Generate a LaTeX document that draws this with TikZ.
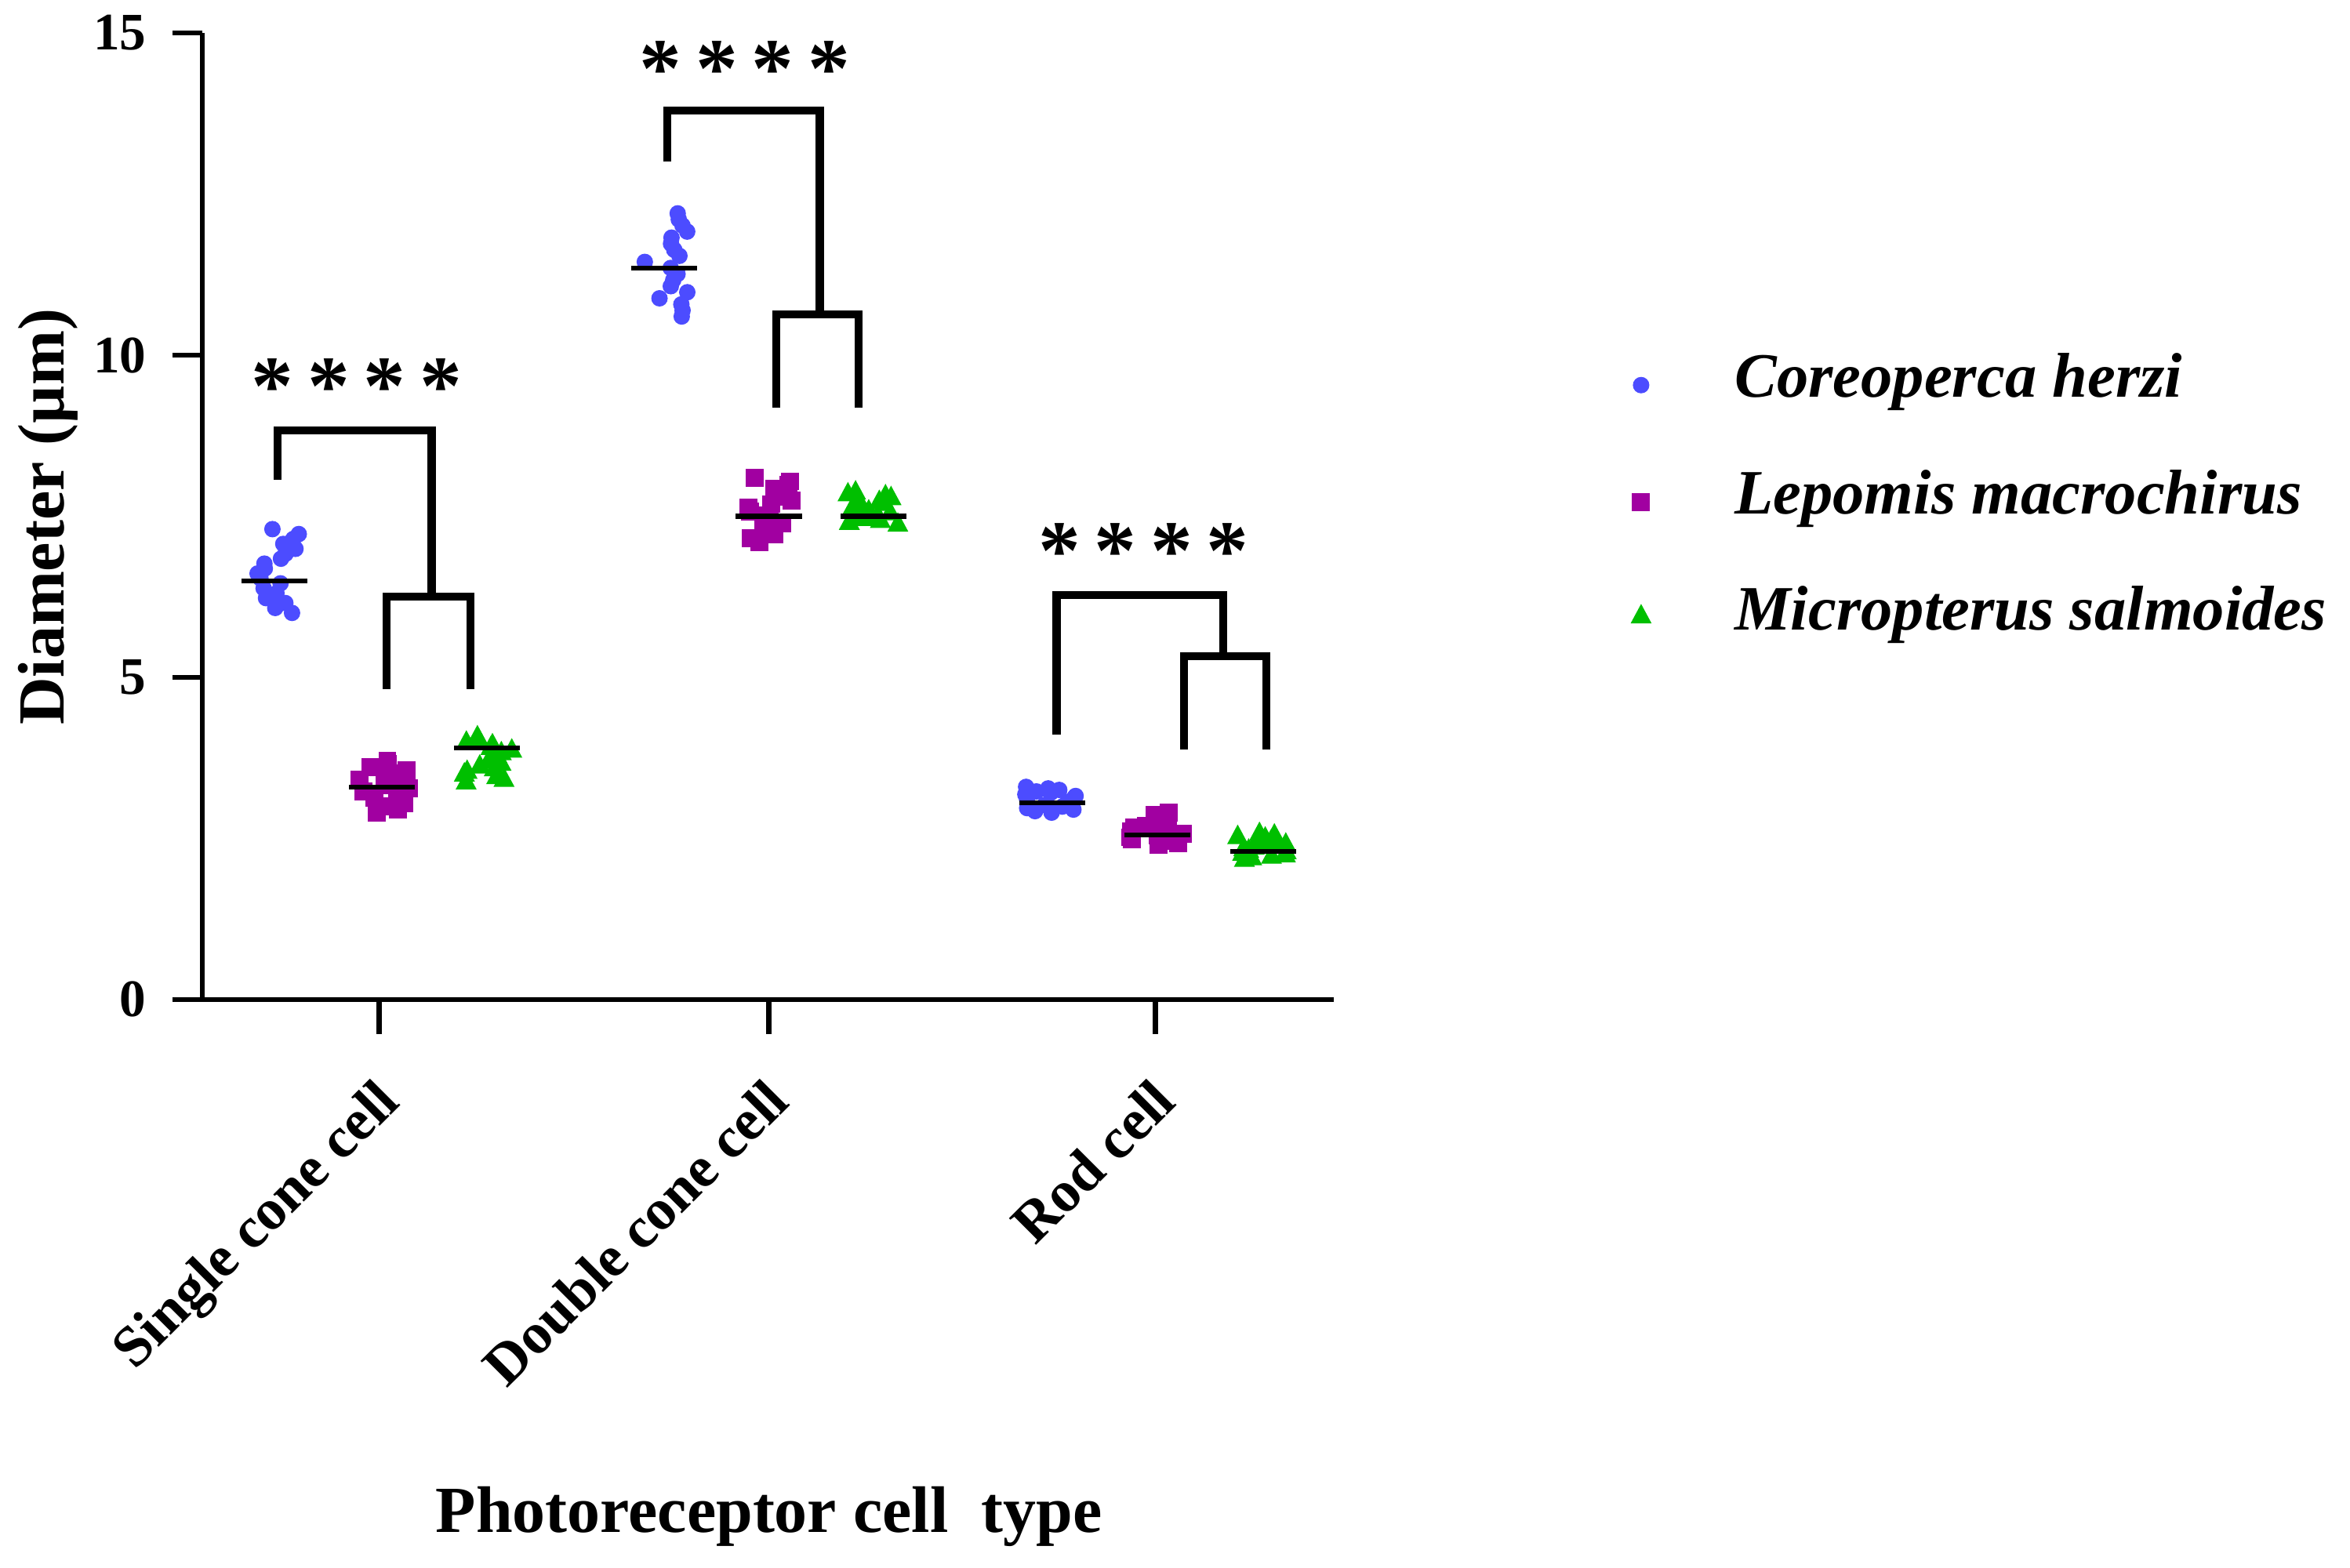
\documentclass[tikz,border=0pt]{standalone}
\usepackage{fontspec}
\setmainfont{Liberation Serif}
\begin{document}
\begin{tikzpicture}[x=0.1mm,y=-0.1mm,
  ax/.style={line width=1pt,black},
  br/.style={line width=1.5pt,black},
  mean/.style={line width=0.9pt,black},
  tl/.style={font=\bfseries\fontsize{10}{12}\selectfont},
  st/.style={font=\bfseries\fontsize{16}{18}\selectfont},
  lg/.style={font=\bfseries\itshape\fontsize{12}{14}\selectfont,anchor=west},
  mkb/.style={fill=blue!70!white,draw=none},
  mkm/.style={fill=violet!60!magenta!90!black,draw=none},
  mkg/.style={fill=green!75!black,draw=none}]
\useasboundingbox (0,0) rectangle (1568,1046);
\def\Y#1{667-43*#1}
% axes
\coordinate (o) at (135,667);
\coordinate (t) at (135,22);
\coordinate (xe) at (890,667);
\coordinate (xs) at (115,667);
\draw[ax] (t) -- (o);
\draw[ax] (xs) -- (xe);
\foreach \v/\l in {0/0,5/5,10/10,15/15}{
  \draw[ax] (115,{\Y{\v}}) -- (135,{\Y{\v}});
  \node[tl,anchor=east] (yl\v) at (110,{\Y{\v}}) {\l};
}
\foreach \x/\n/\t in {253/a/Single cone cell,513/b/Double cone cell,771/c/Rod cell}{
  \draw[ax] (\x,667) -- (\x,690);
  \node[font=\bfseries\fontsize{11}{13}\selectfont,rotate=45,anchor=north east,inner sep=1pt] (cat\n) at (\x-4,712) {\t};
}
\node[font=\bfseries\fontsize{12.5}{14}\selectfont,rotate=90] (ytitle) at (32,345) {Diameter (µm)};
\node[font=\bfseries\fontsize{12.5}{15}\selectfont] (xtitle) at (513,1012) {Photoreceptor cell\ \ type};
% data
\pgfmathsetseed{11}
\foreach \x/\lo/\hi/\m/\k in {
 183/6.0/7.3/6.5/1, 255/2.9/3.7/3.3/2, 325/3.4/4.1/3.9/3,
 443/10.6/12.2/11.35/1, 513/7.1/8.1/7.5/2, 583/7.4/7.9/7.5/3,
 702/2.9/3.3/3.05/1, 772/2.4/2.9/2.55/2, 843/2.2/2.6/2.3/3}{
  \foreach \i in {1,...,18}{
    \pgfmathsetmacro\vv{\lo+(\hi-\lo)*(\i-1)/17}
    \pgfmathsetmacro\dx{18*rand}
    \ifnum\k=1 \fill[mkb] (\x+\dx,{\Y{\vv}}) circle (5.5);\fi
    \ifnum\k=2 \fill[mkm] (\x+\dx-6,{\Y{\vv}-6}) rectangle ++(12,12);\fi
    \ifnum\k=3 \fill[mkg] (\x+\dx-7,{\Y{\vv}+6}) -- ++(14,0) -- ++(-7,-13) -- cycle;\fi
  }
  \draw[mean] (\x-22,{\Y{\m}}) -- (\x+22,{\Y{\m}});
}
% brackets
\draw[br] (185,320) -- (185,287) -- (288,287) -- (288,398);
\draw[br] (258,460) -- (258,398) -- (314,398) -- (314,460);
\node[st] (s1) at (238,258) {*\,*\,*\,*};
\draw[br] (445,108) -- (445,74) -- (547,74) -- (547,210);
\draw[br] (518,272) -- (518,210) -- (573,210) -- (573,272);
\node[st] (s2) at (497,46) {*\,*\,*\,*};
\draw[br] (705,490) -- (705,397) -- (816,397) -- (816,438);
\draw[br] (790,500) -- (790,438) -- (845,438) -- (845,500);
\node[st] (s3) at (763,368) {*\,*\,*\,*};
% legend
\fill[mkb] (1095,257) circle (5.5);
\fill[mkm] (1089,329) rectangle ++(12,12);
\fill[mkg] (1088,416) -- ++(14,0) -- ++(-7,-13) -- cycle;
\node[lg] (l1) at (1145,255) {Coreoperca herzi};
\node[lg] (l2) at (1145,333) {Lepomis macrochirus};
\node[lg] (l3) at (1145,410) {Micropterus salmoides};
\end{tikzpicture}
\end{document}
